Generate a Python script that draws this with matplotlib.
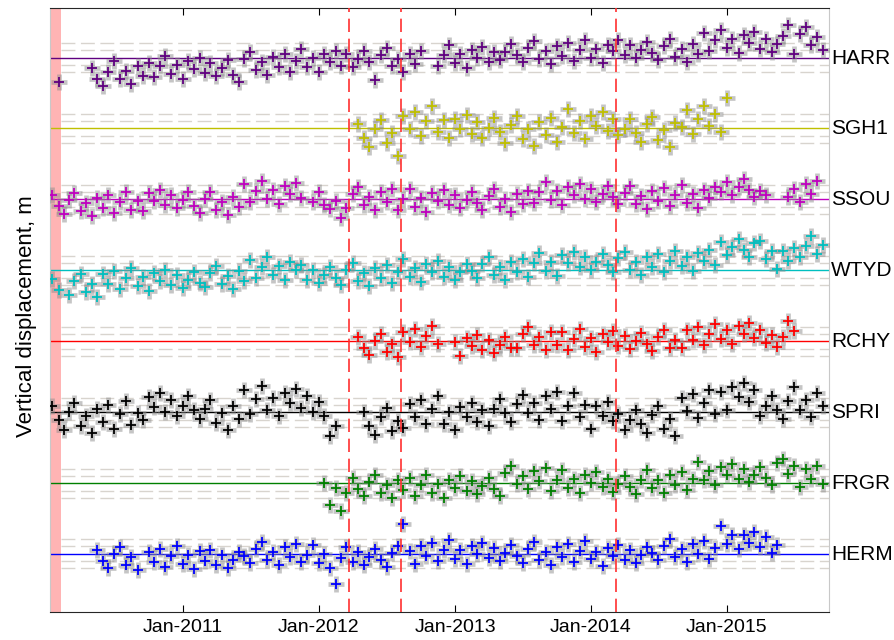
import numpy as np
import pandas as pd
import matplotlib
matplotlib.use('Agg')
import matplotlib.pyplot as plt
import matplotlib.dates as mdates

plt.rcParams['font.family'] = ['Liberation Sans', 'DejaVu Sans']

# station names, bottom to top, and their colours
stations = ['HERM', 'FRGR', 'SPRI', 'RCHY', 'WTYD', 'SSOU', 'SGH1', 'HARR']
colors = ['#0000ff', '#008000', '#000000', '#ff0000', '#00bfbf', '#bf00bf', '#bfbf00', '#600080']
spacing = 70.9  # vertical offset between stations

# first date of each series (semi-monthly samples, 1st and 15th)
starts = {
    'HARR': '2010-02-01', 'SGH1': '2012-04-15', 'SSOU': '2010-01-15', 'WTYD': '2010-01-15',
    'RCHY': '2012-04-15', 'SPRI': '2010-01-15', 'FRGR': '2012-01-15', 'HERM': '2010-05-15',
}

# displacement values (None = no data)
harr = [-24, None, None, None, None, None,
        -10, -21, -28, -14,
        -3, -21, -13, -26, -8, -18, -5,
        -19, -8, 2, -16, -7, -21, -3, -11, 0, -15, -5, -18, -10, -2,
        -17, -24,
        -1, 6, -12, -4, -17, 1, -9, 4, -14, -3,
        9, -9, 0, -14, 4, -4, 7, -8,
        4, -9, -1, 7, -4, -22, 3, 10, -8,
        -1, -14, 4, -6, 7,
        None, None,
        -8, 3, 13, -5, 4, -10, 8, 0, 11, -4, 6,
        -2, 6, 14, 3, -4, 10, 17, -1, 7, -6, 12, 2, 15, -3, 8, 18, 0, 9, -5, 13,
        7, 18, 3, 13, 0, 8, 16, 5, -2, 12, 19, 1, 9, -4, 14, 4,
        25, 7, 18, 28, 10, 19, 5, 23, 15, 26,
        9, 19, 6, 14, 22, 33, 4,
        24, 31, 13, 21, 8]
sgh1 = [4, -10, -19, -1, 8, -15, -5, -28,
        12, -1, 16, -8, 7, 22, -4, 8, -10,
        9, -1, 13, -6, 6, -10, 0, 10, -4,
        -15, 3, 12, -11, -1, -18, 6, -7, 10, -14, 1,
        19, -5, 7, -11, 12, 2, 16, -3, 9, -7,
        -1, 9, -5, -14, 4,
        11, -12, -2, -19, 5,
        1, 18, -6, 9, 22,
        2, 14, -4, 30]
ssou = [4, -7,
        -15, -1, 6, -12, -4, -17, 1, -9, 4, -14, -3, 7, -11, -2,
        -12, 6, -2, 9, -6, 4, -9, -1, 7,
        -7, -14, 0, 7, -11, -3, -16, 2, -8,
        15, -3, 8, 18, 0, 9, -5, 13, 5, 16,
        1, None,
        -3, 7, -6,
        -10, -2, -19,
        -9, 5, 12, -6, 2, -11, 7, -3, 10,
        -11, 0, 10, -8, 1, -13,
        6, -2, 9, -6, 4, -9, -1, 7, -4, -11, 3, 10, -8, 0, -13, 5, -5, 8,
        -4, 7, 17, -1, 8, -6, 12, 4, 15, 0, 10, -3, 5, 13, 2, -5,
        6, 13, -5, 3, -10, 8, -2, 11, -7, 4, 14, -4, 5, -9, 9, 1, 12,
        7, 17, 4, 12, 20, 9, 2, 8, 4,
        None, None, None,
        2, 10, -3, 15, 5, 18]
wtyd = [-9, -20,
        None,
        -25, -11, -4, -22, -14, -27,
        -4, -14, -1, -19, -8, 2, -16, -7, -21, -3, -11, 0, -15, -5, -18, -10, -2, -13,
        -17, -3, 4, -14, -6, -19, -1, -11,
        10, -8, 3, 13, -5, 4, -10, 8, 0,
        5, -10, 0, -13, -5, 3, -8, -15,
        0, 7, -11, -3, -16, 2, -8, 5, -13, -2,
        11, -7, 2, -12, 6, -2, 9,
        -7, 3, -10, -2, 6,
        -1, -8, 6, 13, -5, 3, -10, 8, -2, 11, -7,
        7, 17, -1, 8, -6,
        15, 7, 18, 3, 13, 0, 8, 16, 5, -2, 12,
        18, 0, 8, -5, 13, 3, 16, -2, 9, 19,
        4, 13, -1, 17, 9, 20, 5,
        28, 15, 23, 31, 20, 13, 27,
        29, 11, 19,
        1, 19, 9, 22,
        13, 24, 34, 16, 25]
rchy = [4, -7, -14, 0, 7, -11, -3, -16,
        9, -1, 12, -6, 5, 15, -3,
        None, None,
        -1, -15, 3, -5, 6, -9, 1, -12, -4, 4, -7,
        -7, 7, 14, -4, 4, -9, 9,
        -4, 9, -9, 2, 12, -6, 3, -11, 7, -1, 10,
        -5, 5, -8, 0, 8, -3, -10, 4, 11, -7, 1,
        -7, 11, 1, 14, -4, 7, 17,
        2, 11, -3, 15, 7, 18, 3,
        11, -2, 6,
        -6, 4,
        20, 10]
spri = [6, -8,
        -18, 0, 9, -14, -4, -21, 3, -10, 7, -17, -2, 11, -13, -1,
        -8, 15, 5, 19, 0, 12, -4, 6, 16, 2, -7,
        3, 12, -11, -1, -18, 6, -7,
        22, -2, 13, 26, 2, 14, -4, 19, 9, 23, 4, 16, 0, 10,
        -4, -24, -14,
        None, None, None, None,
        0, -14, -23, -5, 4, -19, -9,
        -16, 8, -5, 12, -12, 3, 16,
        -12, 0, -18, 5, -5, 9, -10, 2, -14,
        3, 13, -1, -10, 8, 17,
        -1, 9, -8, 16, 3, 20,
        -9, 6, 19, -5, 7,
        -17, 6, -4, 10, -9,
        -2, -18, -8, 2, -12, -21, -3, 6, -17, -7, -24,
        14, 1, 18, -6, 9, 22, -2,
        20, 2, 25, 15, 29, 10, 22,
        -4, 6, 16, 2, -7, 11,
        25, 2, 12, -5, 19, 6]
frgr = [0, -22, -5, -28, -10,
        5, -6, -13, 1, 8, -10, -2, -15, 3, -7,
        5, -13, -2, 8, -10, -1, -15, 3, -5,
        7, -8, 2, -11, -3, 5, -6, -13,
        10, 17, -1, 7, -6, 12, 2, 15,
        -8, 3, 13, -5, 4, -10, 8, 0, 11, -4,
        4, -9, -1, 7, -4, -11, 3,
        13, -5, 3, -10, 8, -2, 11, -7, 4,
        21, 3, 12, -2, 16, 8, 19, 4, 14, 1,
        8, 16, 5, -2,
        20, 24, 9, 17,
        -4, 14, 4, 17, -1]
herm = [4, -7, -14, 0, 7, -11, -3, -16,
        None,
        2, -8, 5, -13, -2, 8, -10, -1, -15, 3,
        -7, 4, -11, -1, -14, -6, 2,
        -2, -9, 5, 12, -6, 2, -11, 7, -3, 10, -8,
        -1, 9, -9, 0, -14, -30, -4, 7, -8, 2, -11, -3, 5, -6, -13, 1, 8,
        30, 3, -10, 8, -2, 11, -7, 4, 14,
        -5, 4, -10, 8, 0, 11, -4, 6, -7, 1, 9, -2, -9, 5, 12, -6, 2, -11, 7, -3, 10, -8, 3, 13, -5,
        2, -12, 6, -2, 9, -6, 4, -9, -1, 7,
        1, -6, 8, 15, -3, 5, -8, 10, 0, 13,
        -5, 6,
        28, 10, 19, 5,
        19, 11, 22, 7, 17,
        1, 9]
values = {'HARR': harr, 'SGH1': sgh1, 'SSOU': ssou, 'WTYD': wtyd,
          'RCHY': rchy, 'SPRI': spri, 'FRGR': frgr, 'HERM': herm}

# reference levels around each baseline
band_levels = [-14.5, -7.5, 7.5, 14.5]

# dates of events
events = ['2012-03-22', '2012-08-08', '2014-03-08']
x_start, x_end = pd.Timestamp('2010-01-09'), pd.Timestamp('2015-10-02')
shade_end = pd.Timestamp('2010-02-08')

fig = plt.figure(figsize=(8.94, 6.40), dpi=100)
ax = fig.add_axes([50 / 894, 28 / 640, 779 / 894, 604 / 640])

ax.axvspan(x_start, shade_end, color='#ffb4b4', zorder=0, lw=0)

for k, name in enumerate(stations):
    base = k * spacing
    col = colors[k]
    for lev in band_levels:
        ax.plot([shade_end, x_end], [base + lev] * 2, color='#d8d4ce', lw=1.0,
                dashes=(10, 4), zorder=1)
    ax.axhline(base, color=col, lw=1.0, zorder=2)
    vals = np.array(values[name], dtype=float)
    dates = pd.date_range(starts[name], periods=len(vals), freq='SMS')
    ax.plot(dates, base + vals, '+', color='0.55', ms=12, mew=3.4, alpha=0.5, zorder=3)
    ax.plot(dates, base + vals, '+', color=col, ms=7.5, mew=1.3, zorder=4)
    ax.text(1.003, (base + 58) / 604.5, name, transform=ax.transAxes,
            fontsize=15, va='center', ha='left')

for ev in events:
    ax.axvline(pd.Timestamp(ev), color='#ff3030', lw=1.2, dashes=(8, 4), zorder=5)

ax.set_xlim(x_start, x_end)
ax.set_ylim(-58, 7 * spacing + 49.5)

ax.xaxis.set_major_formatter(mdates.DateFormatter('%b-%Y'))
ax.set_xticks([pd.Timestamp(f'{y}-01-01') for y in range(2011, 2016)])
ax.tick_params(axis='x', direction='in', top=True, length=5, labelsize=14, pad=5)
ax.set_yticks([])
ax.set_ylabel('Vertical displacement, m', fontsize=16)
ax.yaxis.set_label_coords(-0.017, 0.49)

for s in ['top', 'bottom']:
    ax.spines[s].set_color('#262626')
for s in ['left', 'right']:
    ax.spines[s].set_color('#c8c8c8')

fig.savefig('out.png', dpi=100)
